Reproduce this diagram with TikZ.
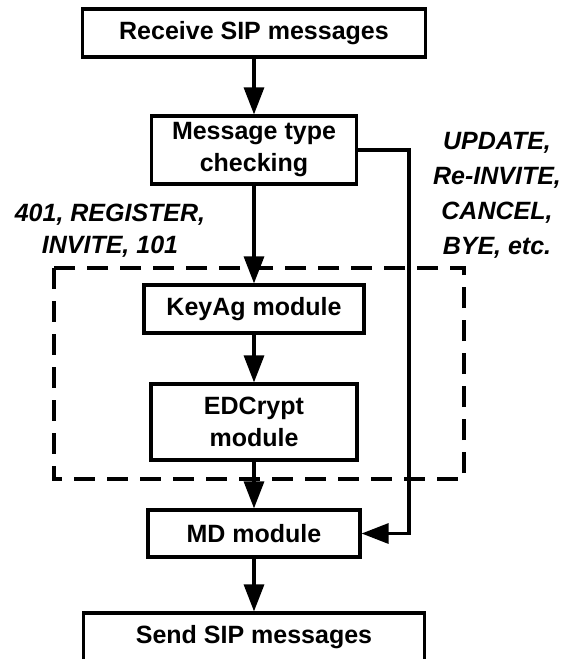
\documentclass[tikz,border=0pt]{standalone}
\usepackage{fontspec}
\setmainfont{Liberation Sans}
\usetikzlibrary{arrows.meta}

\begin{document}
\begin{tikzpicture}[x=1pt,y=-1pt,
  line width=3.2pt,
  every node/.style={font=\bfseries\fontsize{25}{32}\selectfont},
  blockbox/.style={draw, rectangle, inner sep=0pt, align=center},
  flow/.style={-{Triangle[length=27pt,width=20pt]}},
  tag/.style={draw=none, align=center, font=\bfseries\itshape\fontsize{25}{32}\selectfont},
  frame/.style={dash pattern=on 21pt off 12pt}
]
\path[use as bounding box, clip] (0,0) rectangle (563,659);

% main column of processing stages
\node[blockbox, minimum width=343pt, minimum height=48pt] (recv) at (254,33) {Receive SIP messages};
\node[blockbox, minimum width=205pt, minimum height=68pt] (check) at (254,150) {Message type\\checking};
\node[blockbox, minimum width=220pt, minimum height=48pt] (keyag) at (254,309) {KeyAg module};
\node[blockbox, minimum width=206pt, minimum height=76pt] (edc) at (254,422) {EDCrypt\\module};
\node[blockbox, minimum width=212pt, minimum height=47pt] (md) at (254,533.5) {MD module};
\node[blockbox, minimum width=341pt, minimum height=48pt] (send) at (254,637) {Send SIP messages};

% dashed boundary round the encryption stages
\coordinate (frameNW) at (54,268);
\coordinate (frameSE) at (464,479);
\draw[frame] (frameNW) rectangle (frameSE);

% connectors
\draw[flow] (recv) -- (check);
\draw[flow] (check) -- (keyag);
\draw[flow] (keyag) -- (edc);
\draw[flow] (edc) -- (md);
\draw[flow] (md) -- (send);
\coordinate (bypass) at (409,150);
\draw[flow] (check.east) -- (bypass) |- (md.east);

% message type labels
\node[tag] (lefttag) at (110,231) {401, REGISTER,\\INVITE, 101};
\node[tag, font=\bfseries\itshape\fontsize{25}{35}\selectfont] (righttag) at (497,195) {UPDATE,\\Re-INVITE,\\CANCEL,\\BYE, etc.};
\end{tikzpicture}
\end{document}
